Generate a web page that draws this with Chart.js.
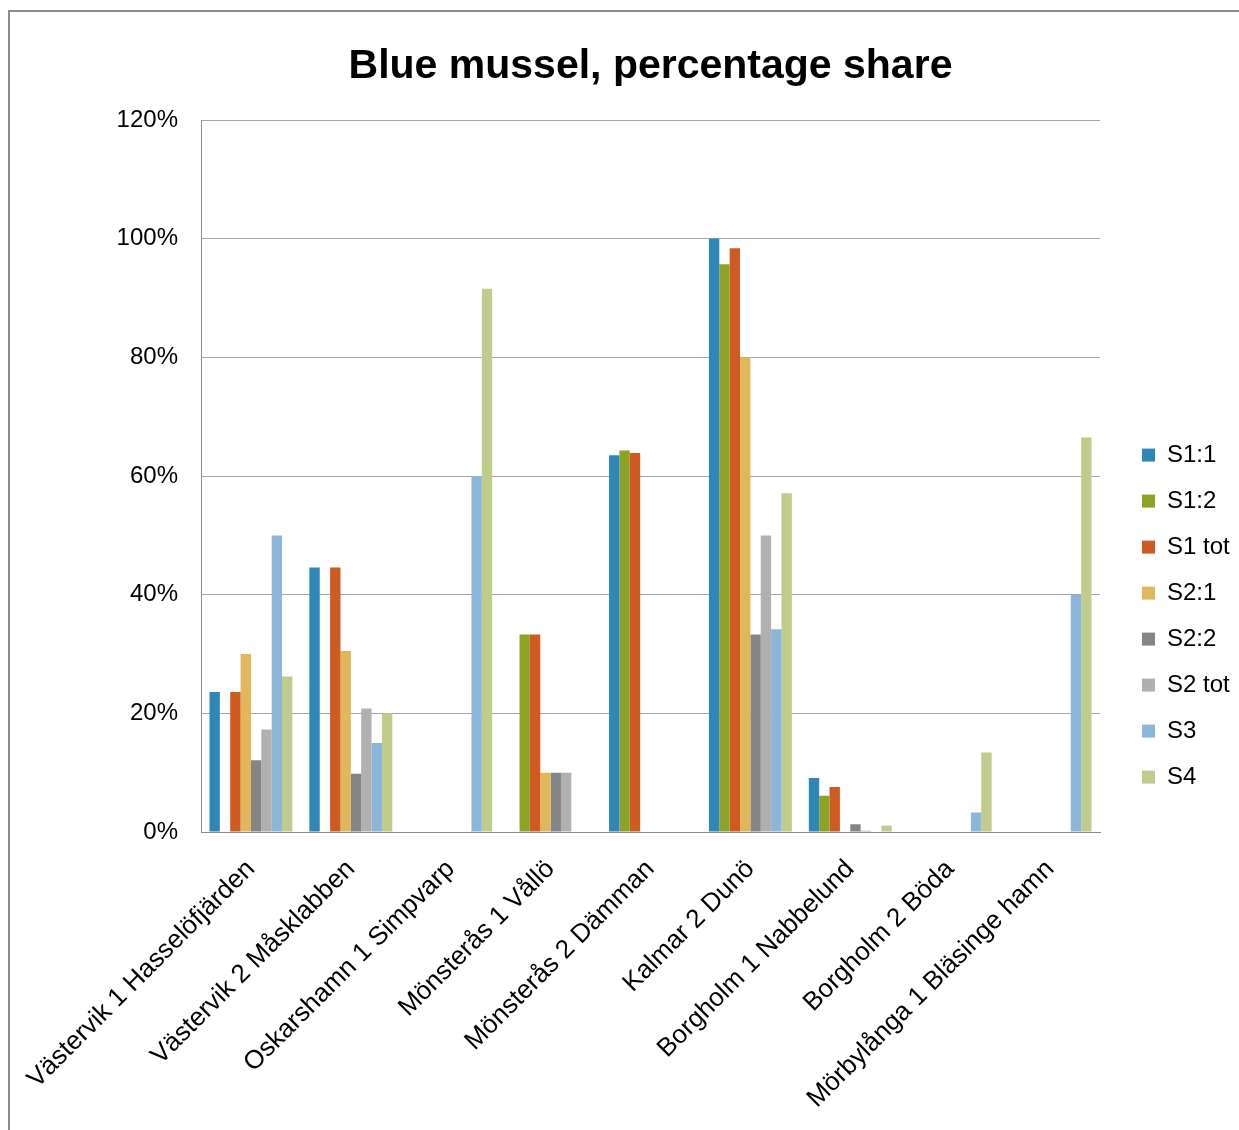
<!DOCTYPE html>
<html>
<head>
<meta charset="utf-8">
<script src="https://cdn.jsdelivr.net/npm/chart.js@4/dist/chart.umd.min.js"></script>
<style>
  html, body { margin: 0; padding: 0; background: #fff; overflow: hidden; }
  #frame { position: absolute; left: 8px; top: 10px; width: 1300px; height: 1200px; border: 2px solid #8c8c8c; }
  #chart { position: absolute; left: 0; top: 0; }
</style>
</head>
<body>
<div id="frame"></div>
<canvas id="chart" width="1239" height="1130"></canvas>
<script>
// values, in percent
const categories = [
  'Västervik 1 Hasselöfjärden', 'Västervik 2 Måsklabben', 'Oskarshamn 1 Simpvarp',
  'Mönsterås 1 Vållö', 'Mönsterås 2 Dämman', 'Kalmar 2 Dunö',
  'Borgholm 1 Nabbelund', 'Borgholm 2 Böda', 'Mörbylånga 1 Bläsinge hamn'
];
const seriesNames = ['S1:1', 'S1:2', 'S1 tot', 'S2:1', 'S2:2', 'S2 tot', 'S3', 'S4'];
const s1_1  = [23.6, 44.6, 0, 0, 63.5, 100, 9.1, 0, 0];
const s1_2  = [0, 0, 0, 33.3, 64.3, 95.7, 6.1, 0, 0];
const s1tot = [23.6, 44.6, 0, 33.3, 63.9, 98.4, 7.6, 0, 0];
const s2_1  = [30, 30.5, 0, 10, 0, 80, 0, 0, 0];
const s2_2  = [12.1, 9.8, 0, 10, 0, 33.3, 1.3, 0, 0];
const s2tot = [17.3, 20.8, 0, 10, 0, 50, 0.2, 0, 0];
const s3    = [50, 15, 60, 0, 0, 34.2, 0, 3.3, 40];
const s4    = [26.2, 20, 91.6, 0, 0, 57.1, 1.1, 13.4, 66.5];
const yTicks = [0, 20, 40, 60, 80, 100, 120];

const seriesValues = [s1_1, s1_2, s1tot, s2_1, s2_2, s2tot, s3, s4];
const colors = ['#2e87b7', '#8ea226', '#cf5a22', '#e0b85b', '#858585', '#b0b0b0', '#8cb6d9', '#c0cc8b'];

const datasets = seriesNames.map((name, i) => ({
  label: name,
  data: seriesValues[i],
  backgroundColor: colors[i],
  borderWidth: 0,
  categoryPercentage: 0.83,
  barPercentage: 1
}));

const axisFont = { family: 'Liberation Sans, Arial, sans-serif', size: 24 };

new Chart(document.getElementById('chart'), {
  type: 'bar',
  data: { labels: categories, datasets },
  options: {
    responsive: false,
    animation: false,
    layout: { padding: 0 },
    plugins: {
      tooltip: { enabled: false },
      title: {
        display: true,
        text: 'Blue mussel, percentage share',
        fullSize: false,
        color: '#000',
        font: { family: 'Liberation Sans, Arial, sans-serif', size: 41, weight: 'bold' },
        padding: { top: 42, bottom: 29 }
      },
      legend: {
        position: 'right',
        align: 'center',
        maxWidth: 119,
        title: { display: true, text: '', font: { size: 1 }, padding: { top: 101, bottom: 0 } },
        labels: {
          boxWidth: 13,
          boxHeight: 13,
          padding: 22,
          color: '#000',
          font: axisFont
        }
      }
    },
    scales: {
      x: {
        grid: { display: false },
        border: { display: true, color: '#8c8c8c', width: 1 },
        ticks: {
          color: '#000',
          font: { family: 'Liberation Sans, Arial, sans-serif', size: 26 },
          minRotation: 45,
          maxRotation: 45,
          autoSkip: false,
          padding: 14
        },
        afterFit(s) { s.height = 298; s.paddingLeft = 0; s.paddingRight = 0; }
      },
      y: {
        min: 0,
        max: 120,
        afterBuildTicks(s) { s.ticks = yTicks.map(v => ({ value: v })); },
        grid: { color: '#a6a6a6', lineWidth: 1, drawTicks: false },
        border: { display: true, color: '#8c8c8c', width: 1 },
        ticks: {
          color: '#000',
          font: axisFont,
          padding: 23,
          callback: v => v + '%'
        },
        afterFit(s) { s.width = 201; }
      },
      gap: {
        type: 'linear',
        position: 'right',
        grid: { display: false },
        border: { display: false },
        ticks: { display: false },
        afterFit(s) { s.width = 20; }
      }
    }
  }
});
</script>
</body>
</html>
